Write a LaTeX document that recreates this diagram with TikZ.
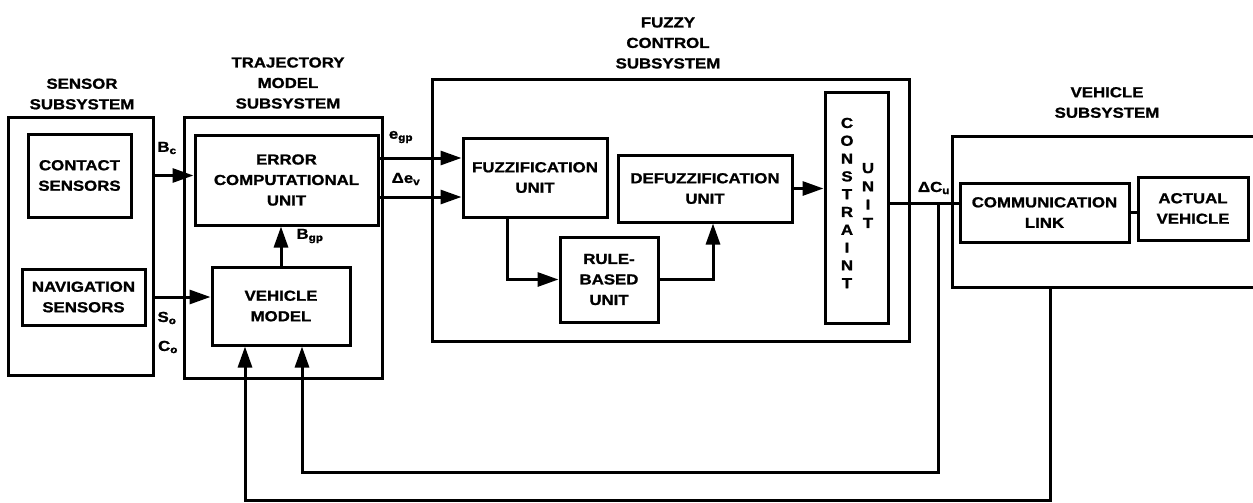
\documentclass[tikz,border=0pt]{standalone}
\usepackage{fontspec}
\setmainfont{Liberation Sans}[FakeStretch=1.16, BoldFeatures={FakeBold=1.2}]
\usetikzlibrary{arrows.meta}

\tikzset{
  blk/.style={draw,align=center,inner sep=0pt},
  lbl/.style={inner sep=0pt},
  arr/.style={-{Triangle[length=21pt,width=14pt]}}
}

\begin{document}
\begin{tikzpicture}[x=1pt,y=-1pt,line width=3pt,
  every node/.append style={font=\fontsize{14.5}{20.5}\selectfont\bfseries}]
\useasboundingbox (0,0) rectangle (1253,503);

% Subsistemas
\node[blk,minimum width=145pt,minimum height=258pt] (sensys) at (80.5,246) {};
\node[blk,minimum width=198pt,minimum height=261pt] (trajsys) at (283,247.5) {};
\node[blk,minimum width=477pt,minimum height=261pt] (fuzzsys) at (670.5,210.5) {};
\node[blk,minimum width=306pt,minimum height=151pt] (vehsys) at (1105,211.5) {};

% Titulos
\node[align=center] (tsens) at (82,94) {SENSOR\\SUBSYSTEM};
\node[align=center] (ttraj) at (288,83) {TRAJECTORY\\MODEL\\SUBSYSTEM};
\node[align=center] (tfuzz) at (668,43) {FUZZY\\CONTROL\\SUBSYSTEM};
\node[align=center] (tveh) at (1107,102.5) {VEHICLE\\SUBSYSTEM};

% Blocos
\node[blk,minimum width=103pt,minimum height=83pt] (contact) at (79.5,175.5) {CONTACT\\SENSORS};
\node[blk,minimum width=123pt,minimum height=56pt] (nav) at (83.5,297) {NAVIGATION\\SENSORS};
\node[blk,minimum width=183pt,minimum height=90pt] (error) at (286.5,180) {ERROR\\COMPUTATIONAL\\UNIT};
\node[blk,minimum width=138pt,minimum height=78pt] (vmodel) at (281,306) {VEHICLE\\MODEL};
\node[blk,minimum width=144pt,minimum height=79pt] (fuzz) at (535,177.5) {FUZZIFICATION\\UNIT};
\node[blk,minimum width=174pt,minimum height=67pt] (defuzz) at (705,188.5) {DEFUZZIFICATION\\UNIT};
\node[blk,minimum width=98pt,minimum height=85pt] (rule) at (609,279.5) {RULE-\\BASED\\UNIT};
\node[blk,minimum width=63pt,minimum height=231pt] (constr) at (856.5,207.5) {};
\node[lbl,align=center,font=\fontsize{14.5}{17.8}\selectfont\bfseries] (tconstr) at (847,203) {C\\O\\N\\S\\T\\R\\A\\I\\N\\T};
\node[lbl,align=center,font=\fontsize{14.5}{18.3}\selectfont\bfseries] (tunit) at (868,195.5) {U\\N\\I\\T};
\node[blk,minimum width=169pt,minimum height=59pt] (comm) at (1044.5,212.5) {COMMUNICATION\\LINK};
\node[blk,minimum width=110pt,minimum height=63pt] (actual) at (1193,208.5) {ACTUAL\\VEHICLE};

% Pontos auxiliares
\coordinate (egp) at ([yshift=22pt]error.east);
\coordinate (dev) at ([yshift=-17pt]error.east);
\coordinate (dcu) at (938,203);
\coordinate (fb1) at ([xshift=21pt]vmodel.south);
\coordinate (fb2) at ([xshift=-36pt]vmodel.south);
\coordinate (lp1) at (0,472);
\coordinate (lp2) at (0,500);

% Ligacoes
\draw[arr] (sensys.east |- contact) -- (error.west |- contact);
\draw[arr] (sensys.east |- nav) -- (vmodel.west |- nav);
\draw[arr] (vmodel.north) -- (vmodel.north |- error.south);
\draw[arr] (egp) -- (egp -| fuzz.west);
\draw[arr] (dev) -- (dev -| fuzz.west);
\draw[arr] ([xshift=-28pt]fuzz.south) |- (rule.west);
\draw[arr] (rule.east) -| ([xshift=8pt]defuzz.south);
\draw[arr] (defuzz.east) -- (defuzz.east -| constr.west);
\draw (constr.east |- dcu) -- (dcu) -- (dcu -| comm.west);
\draw (comm.east) -- (comm.east -| actual.west);
\draw[arr] (dcu) |- (fb1 |- lp1) -- (fb1);
\draw[arr] ([xshift=-55pt]vehsys.south) |- (fb2 |- lp2) -- (fb2);

% Rotulos dos sinais
\node[lbl] (lbc) at (167,148) {B\textsubscript{c}};
\node[lbl] (legp) at (401,137) {e\textsubscript{gp}};
\node[lbl] (ldev) at (406,179) {Δe\textsubscript{v}};
\node[lbl] (lbgp) at (310,236) {B\textsubscript{gp}};
\node[lbl] (lso) at (167,318) {S\textsubscript{o}};
\node[lbl] (lco) at (168,347) {C\textsubscript{o}};
\node[lbl] (ldcu) at (934,188) {ΔC\textsubscript{u}};
\end{tikzpicture}
\end{document}
